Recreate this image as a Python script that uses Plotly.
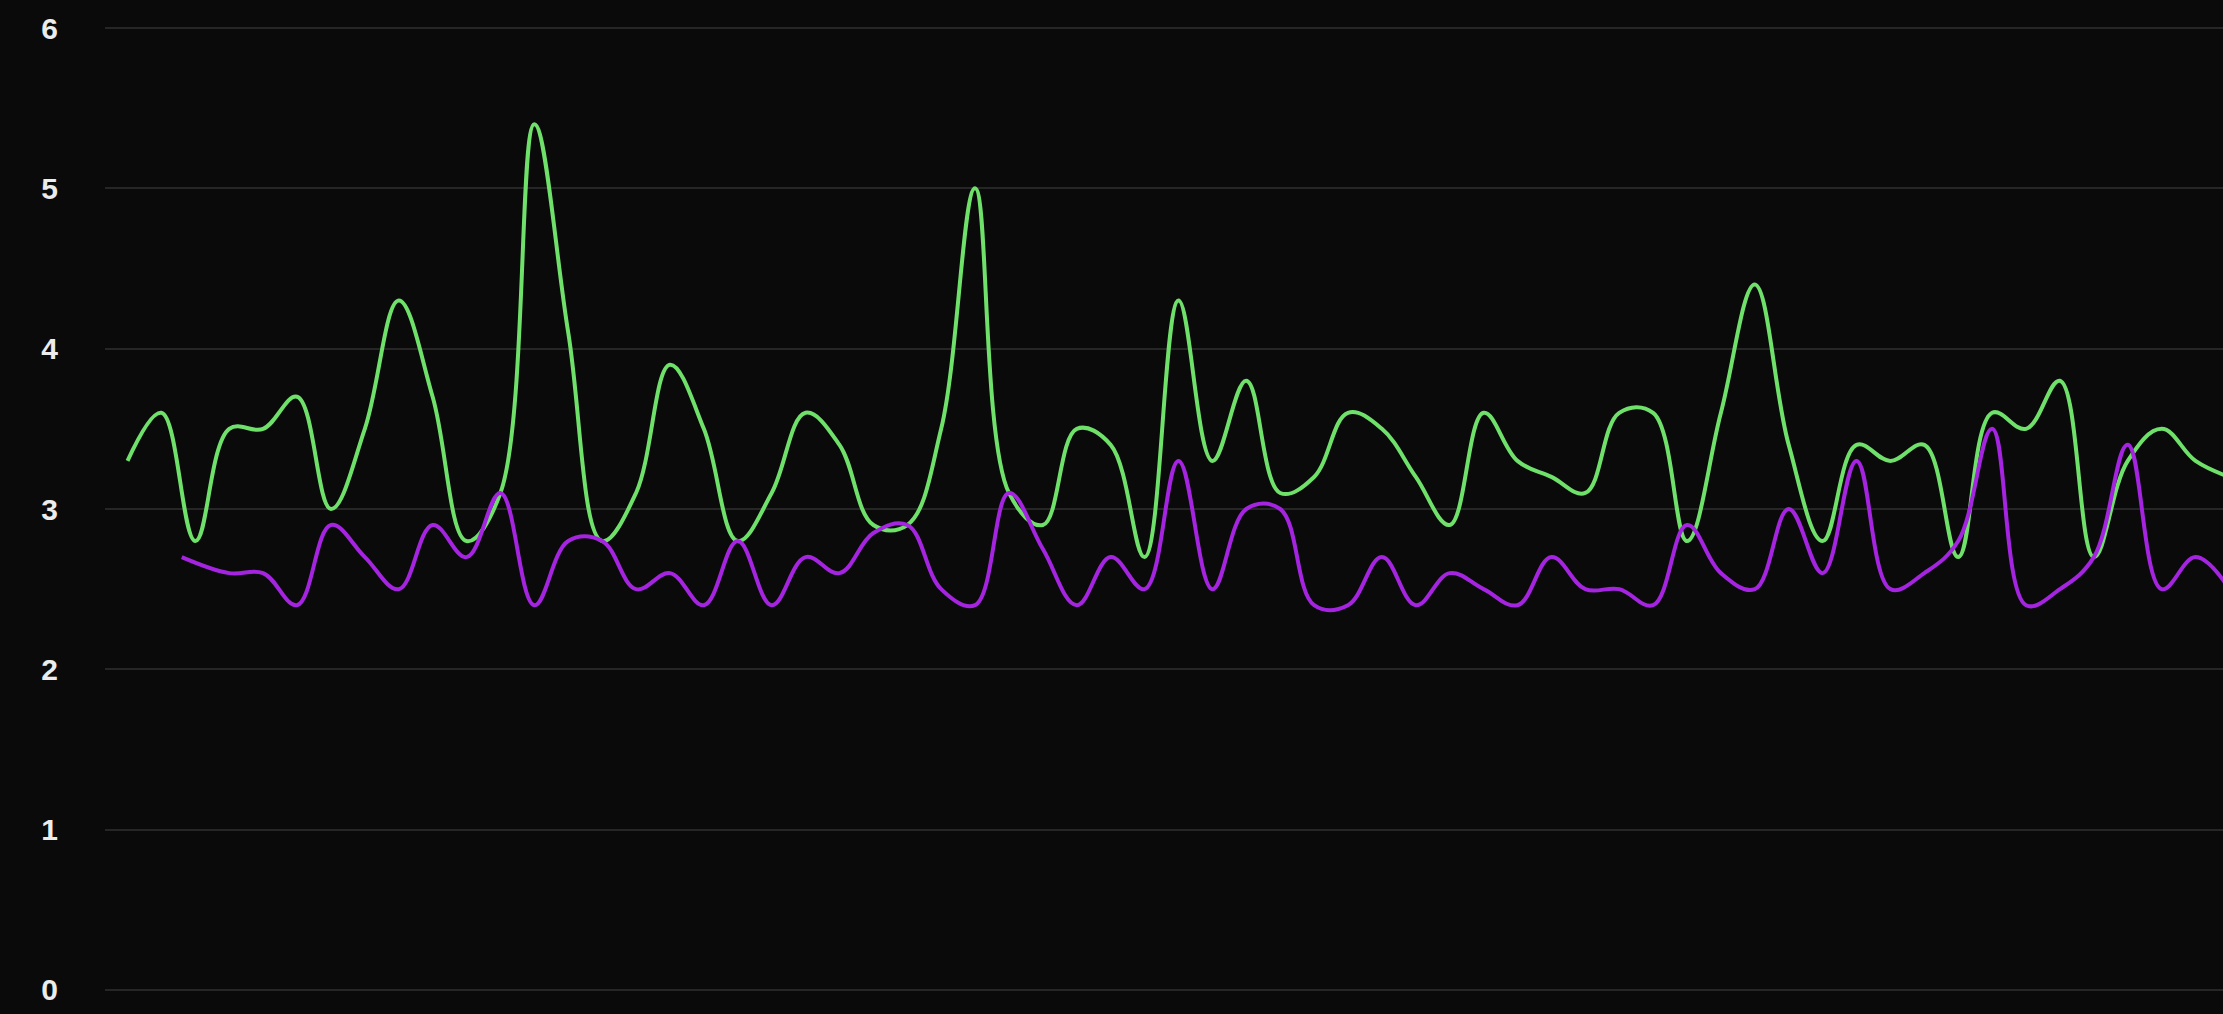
import plotly.graph_objects as go

# sample positions (uniform step)
green_x = list(range(0, 63))
green_y = [3.3, 3.6, 2.8, 3.5, 3.5, 3.7, 3.0, 3.5, 4.3, 3.7,
           2.8, 3.1, 5.4, 4.1, 2.8, 3.1, 3.9, 3.5, 2.8, 3.1,
           3.6, 3.4, 2.9, 2.9, 3.5, 5.0, 3.1, 2.9, 3.5, 3.4,
           2.7, 4.3, 3.3, 3.8, 3.1, 3.2, 3.6, 3.5, 3.2, 2.9,
           3.6, 3.3, 3.2, 3.1, 3.6, 3.6, 2.8, 3.6, 4.4, 3.4,
           2.8, 3.4, 3.3, 3.4, 2.7, 3.6, 3.5, 3.8, 2.7, 3.3,
           3.5, 3.3, 3.2]

purple_x = [1.6] + list(range(3, 63))
purple_y = [2.7, 2.6, 2.6, 2.4, 2.9, 2.7, 2.5, 2.9, 2.7, 3.1,
            2.4, 2.8, 2.8, 2.5, 2.6, 2.4, 2.8, 2.4, 2.7, 2.6,
            2.85, 2.9, 2.5, 2.4, 3.1, 2.75, 2.4, 2.7, 2.5, 3.3,
            2.5, 3.0, 3.0, 2.4, 2.4, 2.7, 2.4, 2.6, 2.5, 2.4,
            2.7, 2.5, 2.5, 2.4, 2.9, 2.6, 2.5, 3.0, 2.6, 3.3,
            2.5, 2.6, 2.8, 3.5, 2.4, 2.5, 2.7, 3.4, 2.5, 2.7,
            2.5]

y_ticks = [0, 1, 2, 3, 4, 5, 6]
y_tick_labels = ["0", "1", "2", "3", "4", "5", "6"]

fig = go.Figure()
fig.add_trace(go.Scatter(x=green_x, y=green_y, mode="lines",
                         line=dict(color="#6fe06a", width=4, shape="spline", smoothing=1.1),
                         hoverinfo="skip", showlegend=False))
fig.add_trace(go.Scatter(x=purple_x, y=purple_y, mode="lines",
                         line=dict(color="#a424e0", width=4, shape="spline", smoothing=1.1),
                         hoverinfo="skip", showlegend=False))

fig.update_layout(
    width=2223, height=1014,
    margin=dict(l=105, r=0, t=20, b=16),
    paper_bgcolor="#0a0a0a", plot_bgcolor="#0a0a0a",
    xaxis=dict(range=[-0.664, 61.81], visible=False, showgrid=False, zeroline=False),
    yaxis=dict(range=[-0.05, 6.05], tickvals=y_ticks, ticktext=y_tick_labels,
               showgrid=True, gridcolor="#262626", gridwidth=2, zeroline=False,
               showline=False, ticks="", ticklabelstandoff=46,
               tickfont=dict(family="Liberation Sans, Arial, sans-serif", size=30,
                             color="#ececec", weight="bold")),
)

fig.write_html(
    "out.html",
    config={"displayModeBar": False},
    post_script="document.body.style.margin='0';document.body.style.overflow='hidden';document.body.style.background='#0a0a0a';",
)
